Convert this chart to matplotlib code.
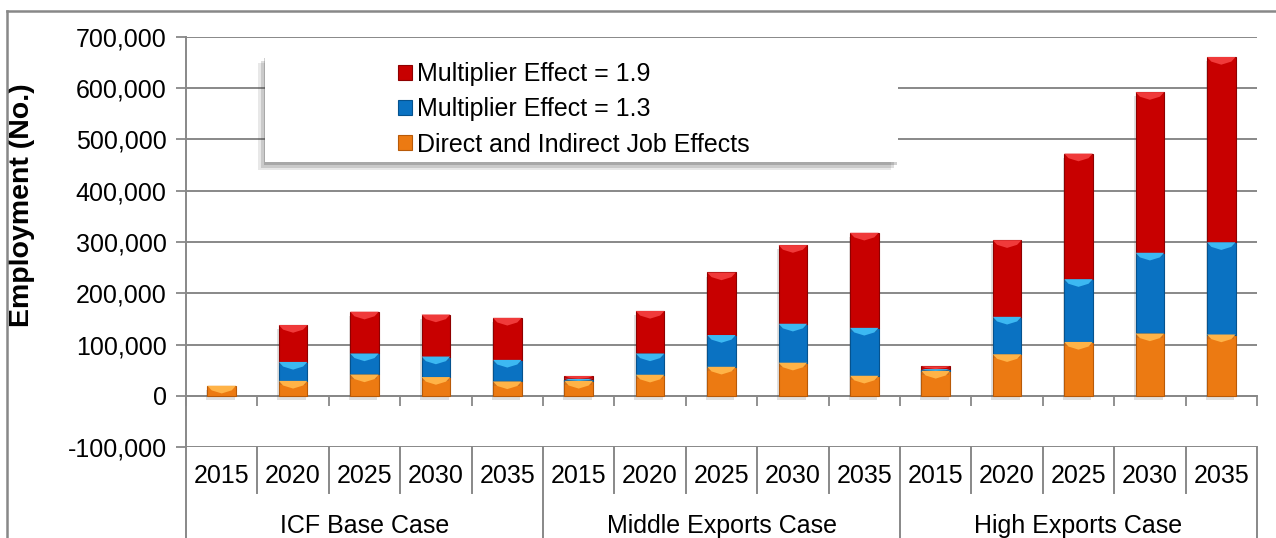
import numpy as np
import matplotlib.pyplot as plt
from matplotlib import patheffects as pe
from matplotlib.patches import Rectangle, Polygon, Patch
from matplotlib.lines import Line2D
from matplotlib.ticker import FuncFormatter

plt.rcParams['font.family'] = ['Liberation Sans', 'DejaVu Sans']

years = ['2015', '2020', '2025', '2030', '2035']
cases = ['ICF Base Case', 'Middle Exports Case', 'High Exports Case']

# employment by segment, 5 years per case
direct = [19500, 29000, 41500, 36500, 28000,
          29000, 41000, 56500, 64500, 39000,
          48500, 81000, 105000, 121500, 119500]
mult13 = [0, 37000, 41000, 40000, 42000,
          4000, 41500, 62000, 76000, 93500,
          3500, 73000, 122500, 157500, 180000]
mult19 = [0, 72000, 81500, 82000, 82000,
          5500, 83000, 122000, 153500, 185500,
          5500, 149500, 245000, 313500, 361500]

labels = ['Multiplier Effect = 1.9', 'Multiplier Effect = 1.3', 'Direct and Indirect Job Effects']
colors = {'direct': ('#EC7A12', '#FFB347', '#B85A08'),
          'm13': ('#0A72C2', '#3CB8F2', '#05528E'),
          'm19': ('#C80000', '#F03A3A', '#8E0000')}

fig = plt.figure(figsize=(12.76, 5.38), dpi=100)
ax = fig.add_axes([186/1276, 91/538, 1071/1276, 410/538])

x = np.arange(len(direct))
d = np.array(direct)
b = np.array(mult13)
r = np.array(mult19)
w = 0.4

shadow = [pe.SimplePatchShadow(offset=(-1, -3), alpha=0.18, shadow_rgbFace='#555555'), pe.Normal()]
stacks = [(d, 0, 'direct'), (b, d, 'm13'), (r, d + b, 'm19')]
for vals, base, key in stacks:
    face, light, dark = colors[key]
    bars = ax.bar(x, vals, w, bottom=base, color=face, edgecolor=dark, linewidth=0.8, zorder=3)
    for p in bars:
        if p.get_height() <= 0:
            p.set_visible(False)
            continue
        p.set_path_effects(shadow)
        # light bevel on the top of each segment
        x0 = p.get_x()
        x1 = x0 + p.get_width()
        top = p.get_y() + p.get_height()
        h = min(15000, p.get_height())
        tri = Polygon([(x0, top), (x1, top), (x1 - 0.06, top - h * 0.6), ((x0 + x1) / 2, top - h),
                       (x0 + 0.06, top - h * 0.6)], closed=True, facecolor=light, edgecolor='none', zorder=4)
        ax.add_patch(tri)

ax.set_xlim(-0.5, 14.5)
ax.set_ylim(-100000, 700000)
ax.set_yticks(np.arange(-100000, 700001, 100000))
ax.yaxis.set_major_formatter(FuncFormatter(lambda v, p: '{:,.0f}'.format(v)))
ax.tick_params(axis='y', labelsize=18, length=7, width=1.3, color='#888888', pad=7)
ax.grid(axis='y', color='#888888', linewidth=1.4, zorder=0)
ax.set_axisbelow(True)

for s in ['top', 'right']:
    ax.spines[s].set_visible(False)
ax.spines['left'].set_color('#888888')
ax.spines['left'].set_linewidth(1.4)
ax.spines['bottom'].set_position(('data', 0))
ax.spines['bottom'].set_color('#888888')
ax.spines['bottom'].set_linewidth(1.4)
ax.set_xticks(np.arange(-0.5, 15, 1))
ax.tick_params(axis='x', labelbottom=False, length=7, width=1.3, color='#888888', direction='out')

ax.set_ylabel('Employment (No.)', fontsize=20.5, fontweight='bold')
ax.yaxis.set_label_coords(-0.141, 0.59)

# category table under the plot
tr = ax.get_xaxis_transform()
for i, yr in enumerate(years * 3):
    ax.text(i, -0.071, yr, transform=tr, ha='center', va='center', fontsize=18)
for i in range(16):
    bottom = -0.23 if i % 5 == 0 else -0.112
    ax.add_line(Line2D([i - 0.5, i - 0.5], [0, bottom], transform=tr, color='#888888',
                       linewidth=1.4, clip_on=False))
for j, c in enumerate(cases):
    ax.text(5 * j + 2, -0.192, c, transform=tr, ha='center', va='center', fontsize=18)

# legend box with a soft shadow
box = Rectangle((265/1276, 1 - 162/538), 633/1276, 107/538, transform=fig.transFigure,
                facecolor='white', edgecolor='none', zorder=5)
box.set_path_effects([pe.SimplePatchShadow(offset=(-5, -6), alpha=0.12, shadow_rgbFace='#444444'),
                      pe.SimplePatchShadow(offset=(-3, -4), alpha=0.18, shadow_rgbFace='#444444'),
                      pe.SimplePatchShadow(offset=(-1, -2), alpha=0.25, shadow_rgbFace='#444444'),
                      pe.Normal()])
fig.patches.append(box)
handles = [Patch(facecolor=colors[k][0], edgecolor=colors[k][2], linewidth=0.8) for k in ['m19', 'm13', 'direct']]
leg = fig.legend(handles, labels, loc='upper left', bbox_to_anchor=(388/1276, 1 - 52/538),
                 frameon=False, fontsize=18, handlelength=0.55, handleheight=0.55, handletextpad=0.2,
                 labelspacing=0.45, borderaxespad=0)
leg.set_zorder(6)

# outer chart border
fig.add_artist(Line2D([7/1276, 1], [1 - 11/538, 1 - 11/538], transform=fig.transFigure, color='#888888', linewidth=1.8))
fig.add_artist(Line2D([7/1276, 7/1276], [0, 1 - 11/538], transform=fig.transFigure, color='#888888', linewidth=1.8))

plt.savefig('out.png', dpi=100)
